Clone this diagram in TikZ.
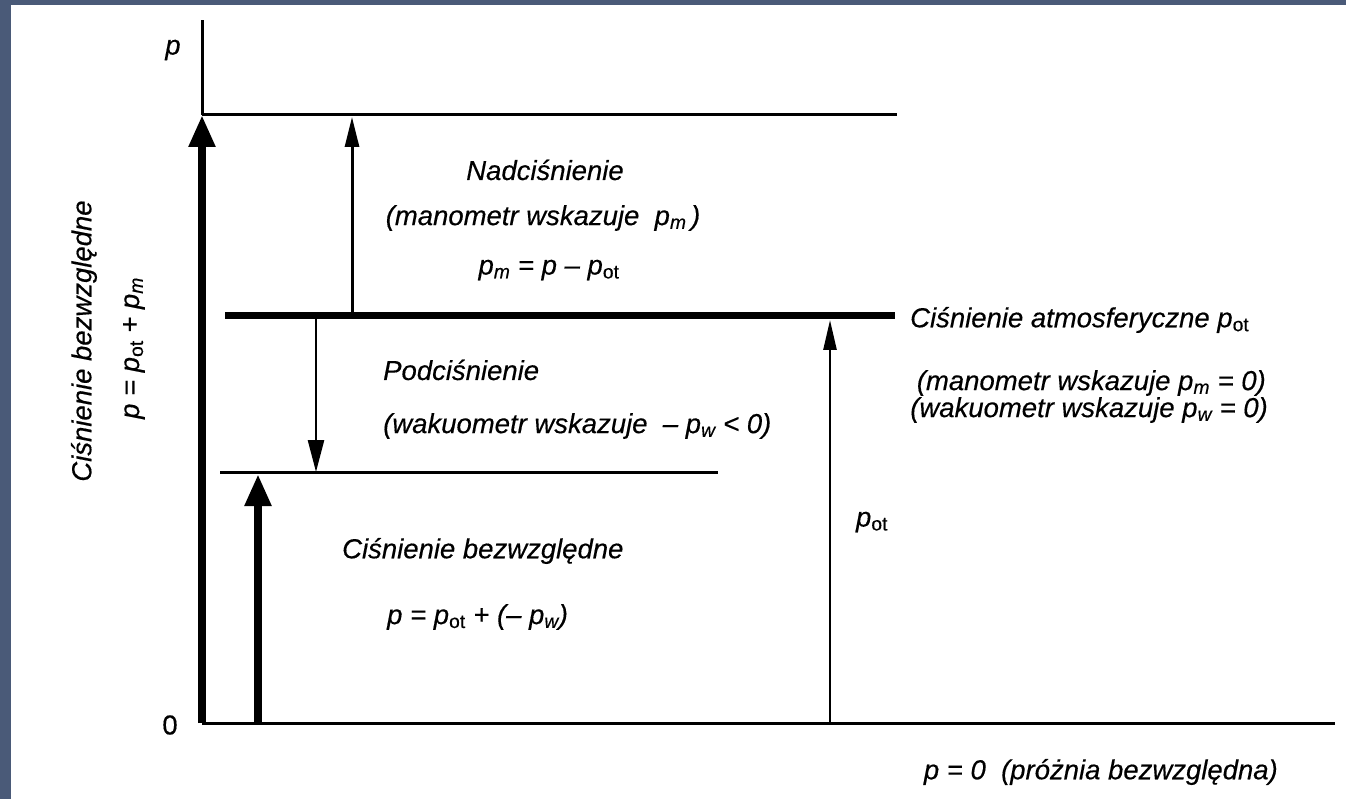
\documentclass[tikz,border=0pt]{standalone}
\usepackage{fontspec}
\setmainfont{Liberation Sans}[FakeBold=0.35]
\usetikzlibrary{arrows.meta}
\definecolor{frame}{HTML}{4A5A78}
\newcommand{\Pot}{p\textsubscript{\upshape ot}}
\newcommand{\Pm}{p\textsubscript{m}}
\newcommand{\Pw}{p\textsubscript{w}}
\begin{document}
\begin{tikzpicture}[x=1pt,y=-1pt,
  txt/.style={font=\fontsize{27.5}{29}\selectfont\itshape, inner sep=0pt},
  lvl/.style={line width=3pt},
  heavy/.style={line width=7pt},
  thinarrow/.style={line width=3pt,-{Triangle[length=30pt,width=14pt]}},
  heavyarrow/.style={line width=8pt,-{Triangle[length=32pt,width=25pt]}}]
\useasboundingbox (0,0) rectangle (1346,799);
\fill[frame] (0,0) rectangle (1346,799);
\fill[white] (11,5) rectangle (1346,799);

% coordinates
\coordinate (O) at (202,723);
\coordinate (Ytop) at (202,20);
\coordinate (Pmax) at (202,115);
\coordinate (Pmaxr) at (897,115);
\coordinate (Atl) at (225,316);
\coordinate (Atr) at (895,316);
\coordinate (Pwl) at (220,472);
\coordinate (Pwr) at (718,472);
\coordinate (Xend) at (1335,723);
\coordinate (Am0) at (352,316);
\coordinate (Am1) at (352,117);
\coordinate (Aw0) at (316,316);
\coordinate (Aw1) at (316,472);
\coordinate (Ab0) at (258,723);
\coordinate (Ab1) at (258,474);
\coordinate (Ao0) at (830,723);
\coordinate (Ao1) at (830,320);

% levels
\draw[lvl] (Pmax) -- (Ytop);
\draw[lvl] (Pmax) -- (Pmaxr);
\draw[heavy] (Atl) -- (Atr);
\draw[lvl] (Pwl) -- (Pwr);
\draw[lvl] (O) -- (Xend);

% arrows
\draw[heavyarrow] (O) -- (Pmax);
\draw[heavyarrow] (Ab0) -- (Ab1);
\draw[thinarrow] (Am0) -- (Am1);
\draw[line width=2.6pt,-{Triangle[length=32pt,width=16pt]}] (Aw0) -- (Aw1);
\draw[line width=2.6pt,-{Triangle[length=30pt,width=13pt]}] (Ao0) -- (Ao1);

% texts
\node[txt] (lp) at (173,50) {p};
\node[txt,font=\fontsize{27.5}{29}\selectfont] (l0) at (170,725) {0};
\node[txt] (nad) at (545,170) {Nadciśnienie};
\node[txt] (nadm) at (543,218) {(manometr wskazuje\ \ \Pm\,)};
\node[txt] (nadf) at (549,270) {\Pm{} = p – \Pot};
\node[txt,anchor=west] (atm) at (910,320) {Ciśnienie atmosferyczne \Pot};
\node[txt,anchor=east] (atm1) at (1266,383) {(manometr wskazuje \Pm{} = 0)};
\node[txt,anchor=east] (atm2) at (1268,410) {(wakuometr wskazuje \Pw{} = 0)};
\node[txt,anchor=west] (pod) at (383,370) {Podciśnienie};
\node[txt,anchor=west] (podw) at (383,426) {(wakuometr wskazuje\ \ – \Pw{} < 0)};
\node[txt] (pot) at (872,522) {\Pot};
\node[txt,anchor=west] (bez) at (342,551) {Ciśnienie bezwzględne};
\node[txt,anchor=west] (bezf) at (387,617) {p = \Pot{} + (– \Pw)};
\node[txt,anchor=east] (zero) at (1278,772) {p = 0\ \ (próżnia bezwzględna)};
\node[txt,rotate=90] (vb) at (84,341) {Ciśnienie bezwzględne};
\node[txt,rotate=90] (vf) at (134,348) {p = \Pot{} + \Pm};
\end{tikzpicture}
\end{document}
